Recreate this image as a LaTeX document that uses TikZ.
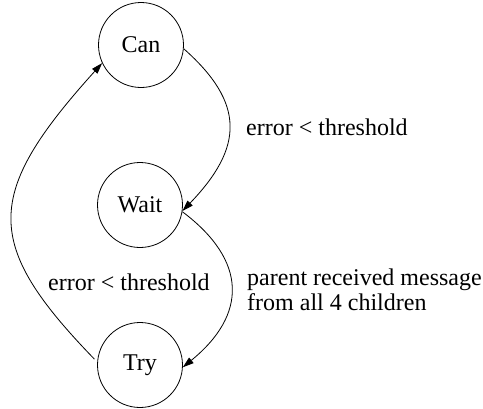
\documentclass[tikz,border=0pt]{standalone}
\usepackage{fontspec}
\setmainfont{Liberation Serif}
\usetikzlibrary{arrows.meta}
\begin{document}
\begin{tikzpicture}[x=1pt,y=-1pt,
  state/.style={circle,draw,line width=0.8pt,minimum size=85pt,inner sep=0pt,
    font=\fontsize{24}{28}\selectfont},
  trans/.style={line width=0.8pt,-{Triangle[length=11pt,width=7pt]}},
  lbl/.style={font=\fontsize{24}{25}\selectfont,inner sep=0pt,align=left,anchor=base west}]
  \useasboundingbox (0,0) rectangle (483,408);
  \node[state] (can)  at (141,45)  {Can};
  \node[state] (wait) at (140,205) {Wait};
  \node[state] (try)  at (140,365) {Try};

  \draw[trans] (can.-5) .. controls (245,103) and (244,147) .. (wait.-8);
  \draw[trans] (wait.-9) .. controls (248,261) and (247,315) .. (try.-3);
  \draw[trans,shorten <=4pt] (try.176) .. controls (-17,244) and (-17,195) .. (can.205);

  \node[lbl] (l1) at (246,135) {error < threshold};
  \node[lbl] (l2) at (247,310) {parent received message\\from all 4 children};
  \node[lbl] (l3) at (48,290) {error < threshold};
\end{tikzpicture}
\end{document}
